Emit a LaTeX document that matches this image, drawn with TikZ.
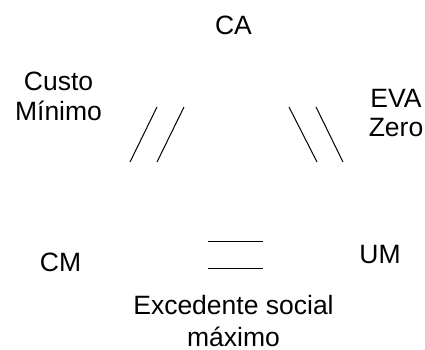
\documentclass[tikz,border=0pt]{standalone}
\usepackage{fontspec}
\setmainfont{Liberation Sans}
\begin{document}
\begin{tikzpicture}[x=1pt,y=-1pt,
  lbl/.style={inner sep=0pt,anchor=base,align=center,font=\fontsize{26.5}{30}\selectfont},
  eq/.style={line width=1pt,black}]
\useasboundingbox (0,0) rectangle (425,349);
\node[lbl] (ca) at (233.5,34) {CA};
\node[lbl] (cm1) at (58.5,120) {Custo\\Mínimo};
\node[lbl,font=\fontsize{26.5}{29}\selectfont] (eva) at (396,136) {EVA\\Zero};
\node[lbl] (cm) at (60.5,271) {CM};
\node[lbl] (um) at (380,263) {UM};
\node[lbl,font=\fontsize{26.5}{32}\selectfont] (esm) at (233.5,346) {Excedente social\\máximo};
\draw[eq] (157,107) -- (130,162);
\draw[eq] (184,107) -- (157,162);
\draw[eq] (289,107) -- (317,162);
\draw[eq] (316,107) -- (343,162);
\draw[eq] (208,241) -- (263,241);
\draw[eq] (208,268) -- (263,268);
\end{tikzpicture}
\end{document}
